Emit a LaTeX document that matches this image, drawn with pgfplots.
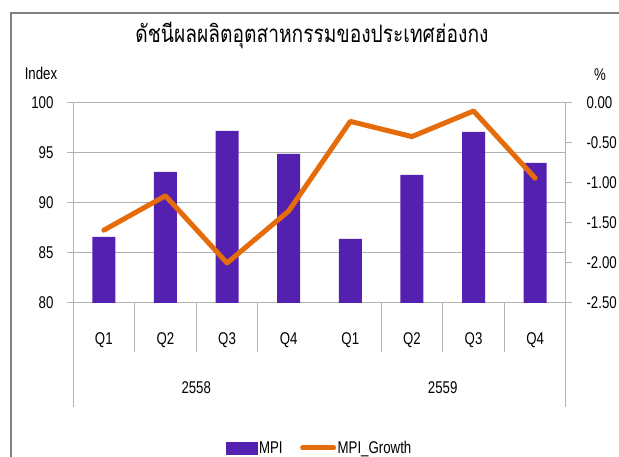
\documentclass[border=0pt]{standalone}
\usepackage{fontspec}
\setmainfont{Liberation Sans}[FakeStretch=0.78]
\newfontfamily\thaifont[Script=Thai, FakeStretch=0.8]{Loma}
\usepackage{pgfplots}
\usepackage{pgfplotstable}
\pgfplotsset{compat=1.18}

\definecolor{mpibar}{RGB}{84,32,176}
\definecolor{mpiline}{RGB}{228,108,10}
\definecolor{gridgray}{RGB}{178,178,178}
\definecolor{framegray}{RGB}{128,128,128}

% quarter, index, growth (%)
\pgfplotstableread{
x  mpi   growth
0  86.6  -1.59
1  93.1  -1.16
2  97.2  -2.00
3  94.9  -1.35
4  86.4  -0.23
5  92.8  -0.42
6  97.1  -0.10
7  94.0  -0.94
}\mpidata

\begin{document}
\begin{tikzpicture}[x=1pt, y=1pt, font=\fontsize{17}{20}\selectfont]
\path[use as bounding box] (0,0) rectangle (619,457);
\draw[framegray, line width=1.3pt] (11,-5) -- (11,444) -- (625,444);
\node[font=\thaifont\fontsize{24}{28}\selectfont] at (312,422)
  {ดัชนีผลผลิตอุตสาหกรรมของประเทศฮ่องกง};
\node at (41,384) {Index};
\node at (600,382) {\%};

\begin{axis}[
  at={(73pt,154pt)}, anchor=south west,
  width=493pt, height=200pt, scale only axis,
  xmin=-0.5, xmax=7.5,
  ymin=80, ymax=100,
  ytick={80,85,...,100},
  xtick={0,...,7},
  xticklabels={Q1,Q2,Q3,Q4,Q1,Q2,Q3,Q4},
  xtick style={draw=none},
  xticklabel style={anchor=base, yshift=-36pt},
  axis x line*=bottom, axis y line*=left,
  axis line style={gridgray, line width=1pt, -},
  ytick style={gridgray, line width=1pt},
  tick align=outside, major tick length=6pt,
  yticklabel style={anchor=east, xshift=-10pt},
  ymajorgrids, grid style={gridgray, line width=1pt},
  /pgf/number format/assume math mode=true,
  clip=false,
]
\addplot[ybar, bar width=23pt, fill=mpibar, draw=none] table[x=x, y=mpi] {\mpidata};
\pgfplotsinvokeforeach{0.5,1.5,2.5,4.5,5.5,6.5}{
  \draw[gridgray, line width=1pt] (axis cs:#1,80) -- ++(0pt,-49pt);
}
\draw[gridgray, line width=1pt] (axis cs:-0.5,80) -- ++(0pt,-104pt);
\draw[gridgray, line width=1pt] (axis cs:7.5,80) -- ++(0pt,-104pt);
\node[anchor=base] at (axis cs:1.5,80) [yshift=-91pt] {2558};
\node[anchor=base] at (axis cs:5.5,80) [yshift=-91pt] {2559};
\end{axis}

\begin{axis}[
  at={(73pt,154pt)}, anchor=south west,
  width=493pt, height=200pt, scale only axis,
  xmin=-0.5, xmax=7.5,
  ymin=-2.5, ymax=0,
  ytick={-2.5,-2,...,0},
  hide x axis,
  axis y line*=right,
  axis line style={gridgray, line width=1pt, -},
  ytick style={gridgray, line width=1pt},
  tick align=outside, major tick length=6pt,
  yticklabel style={anchor=west, xshift=11pt,
    /pgf/number format/.cd, fixed, fixed zerofill, precision=2},
  /pgf/number format/assume math mode=true,
  legend style={at={(0.5,-0.725)}, anchor=center, draw=none, fill=none,
    legend columns=2, column sep=0pt,
    nodes={inner sep=1.5pt}},
  /tikz/every even column/.append style={column sep=16pt},
  clip=false,
]
\addlegendimage{legend image code/.code={\fill[mpibar] (0pt,-6pt) rectangle (31pt,6pt);}}
\addlegendentry{MPI}
\addplot[mpiline, line width=5pt, line join=round, line cap=round,
  legend image code/.code={\draw[mpiline, line width=5pt, line cap=round] (4pt,0pt) -- (35pt,0pt);}]
  table[x=x, y=growth] {\mpidata};
\addlegendentry{MPI\_Growth}
\end{axis}
\end{tikzpicture}
\end{document}
